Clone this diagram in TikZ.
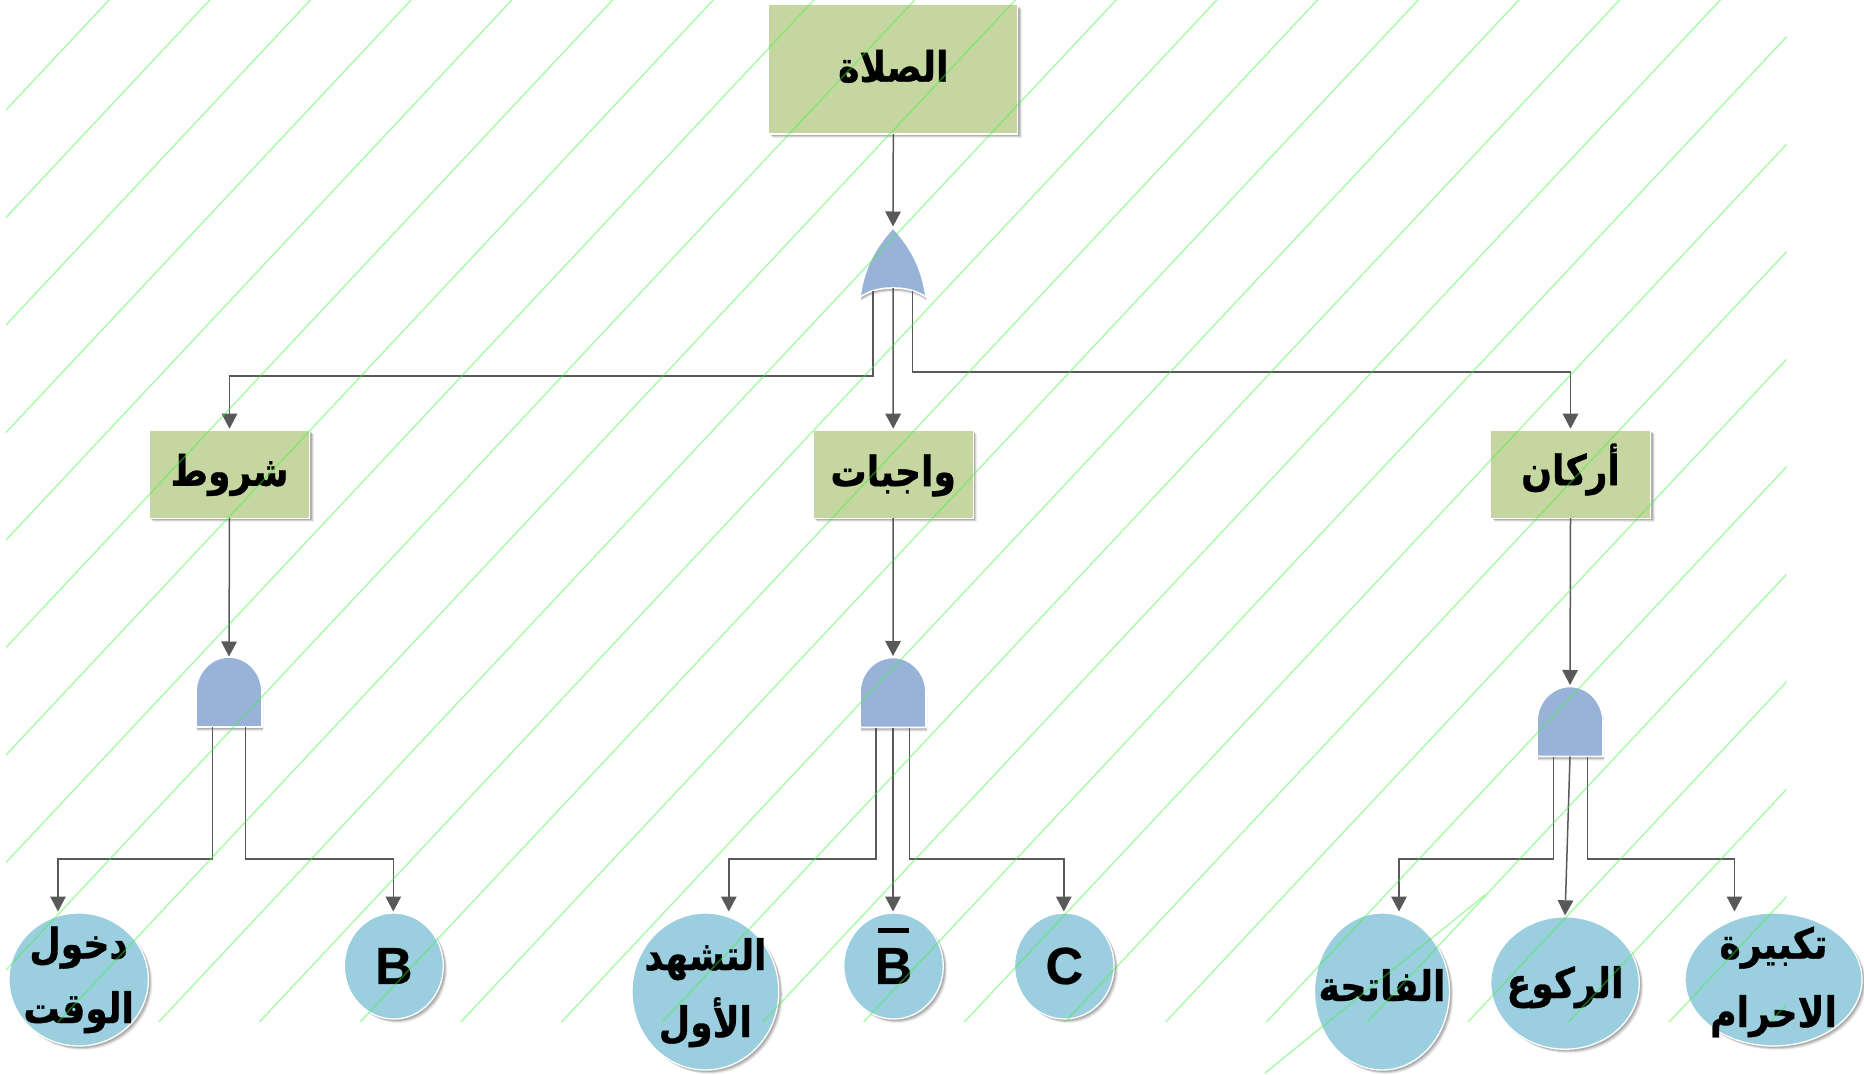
\documentclass[tikz,border=0pt]{standalone}
\usepackage{fontspec}
\usetikzlibrary{arrows.meta,shapes.geometric,shadows,calc}
\TeXXeTstate=1
\newfontfamily\arfont[Script=Arabic,FakeStretch=0.86,BoldFeatures={FakeBold=0.8}]{DejaVu Sans}
\newfontfamily\latfont[BoldFeatures={FakeBold=0.5}]{Liberation Sans}
\definecolor{boxgreen}{HTML}{C6D6A0}
\definecolor{gateblue}{HTML}{99B3D8}
\definecolor{circblue}{HTML}{9BCFDF}
\definecolor{connc}{HTML}{595959}
% zero-size text: the shape keeps its own size, baselines are given from the node's centre
\newcommand{\oneline}[2]{\makebox[0pt]{\smash{\raisebox{#2}{\beginR #1\endR}}}}
\newcommand{\twolines}[4]{\makebox[0pt]{\smash{\makebox[0pt]{\raisebox{#3}{\beginR #1\endR}}\makebox[0pt]{\raisebox{#4}{\beginR #2\endR}}}}}
\tikzset{
  softshadow/.style={
    general shadow={shadow xshift=4pt,shadow yshift=-4pt,fill=black,opacity=.07},
    general shadow={shadow xshift=3pt,shadow yshift=-3pt,fill=black,opacity=.11},
    general shadow={shadow xshift=2pt,shadow yshift=-2pt,fill=black,opacity=.16}},
  gshadow/.style={
    general shadow={shadow xshift=1pt,shadow yshift=-4pt,fill=black,opacity=.07},
    general shadow={shadow xshift=1pt,shadow yshift=-3pt,fill=black,opacity=.11},
    general shadow={shadow xshift=1pt,shadow yshift=-2pt,fill=black,opacity=.16}},
  boxnode/.style={rectangle,draw=white,line width=1.3pt,fill=boxgreen,inner sep=0pt,outer sep=0pt,softshadow,
    text=black,font=\arfont\bfseries\fontsize{42}{44}\selectfont},
  evnode/.style={ellipse,draw=white,line width=1.3pt,fill=circblue,inner sep=0pt,outer sep=0pt,softshadow,
    text=black,font=\arfont\bfseries\fontsize{42}{64}\selectfont},
  latnode/.style={evnode,font=\latfont\bfseries\fontsize{52}{60}\selectfont},
  gatenode/.style={rectangle,inner sep=0pt,outer sep=0pt,minimum width=66pt},
  gateshape/.style={draw=white,line width=1.6pt,fill=gateblue,gshadow},
  conn/.style={draw=connc,line width=1.5pt,-{Triangle[width=15.5pt,length=15pt]},shorten >=1.5pt},
  hatchline/.style={draw={rgb,255:red,60;green,245;blue,60},line width=1.5pt,opacity=.42}
}
\newcommand{\andgate}[1]{\path[gateshape] (#1.south west) -- (#1.south east) -- ++(0,-35)
  arc[start angle=0,end angle=180,x radius=33pt,y radius=35pt] -- cycle;}
\begin{document}
\begin{tikzpicture}[x=1pt,y=-1pt]
\useasboundingbox (0,0) rectangle (1864,1075);
\fill[white] (0,0) rectangle (1864,1075);

% boxes
\node[boxnode,minimum width=249pt,minimum height=129.5pt] (top) at (893.3,69.3) {\oneline{الصلاة}{-12.4pt}};
\node[boxnode,minimum width=160.4pt,minimum height=88pt] (nS) at (229.5,474.2) {\oneline{شروط}{-11.6pt}};
\node[boxnode,minimum width=160.4pt,minimum height=88pt] (nW) at (893.2,474.2) {\oneline{واجبات}{-12pt}};
\node[boxnode,minimum width=160pt,minimum height=88pt] (nA) at (1570.5,474.2) {\oneline{أركان}{-11pt}};

% gates
\node[gatenode,minimum height=60pt] (gO) at (893,258) {};
\path[gateshape] (860,297) .. controls (864,265) and (878,244) .. (gO.north)
  .. controls (908,244) and (922,265) .. (926,297)
  .. controls (915,290) and (905,288) .. (gO.south)
  .. controls (881,288) and (871,290) .. (860,297) -- cycle;
\node[gatenode,minimum height=69pt] (gS) at (229,692.5) {};
\node[gatenode,minimum height=70pt] (gM) at (893,692.5) {};
\node[gatenode,minimum height=70pt] (gR) at (1570,721.5) {};
\andgate{gS}
\andgate{gM}
\andgate{gR}

% events
\node[evnode,minimum width=139.4pt,minimum height=133pt] (eD) at (78.7,979.5) {\twolines{دخول}{الوقت}{21pt}{-43.5pt}};
\node[latnode,minimum width=99pt,minimum height=106pt] (eB) at (393.8,966) {B};
\node[evnode,minimum width=146.8pt,minimum height=157pt] (eT) at (705.4,991.5) {\twolines{التشهد}{الأول}{21.5pt}{-45.5pt}};
\node[latnode,minimum width=99.5pt,minimum height=106pt] (eBb) at (893.5,966) {B};
\node[latnode,minimum width=99.5pt,minimum height=106pt] (eC) at (1064.3,966) {C};
\node[evnode,minimum width=135pt,minimum height=157pt] (eF) at (1382,991.5) {\oneline{الفاتحة}{-9.5pt}};
\node[evnode,minimum width=148.6pt,minimum height=132.4pt] (eRk) at (1565,983) {\oneline{الركوع}{-15pt}};
\node[evnode,minimum width=177pt,minimum height=133pt] (eK) at (1773.5,979.5) {\twolines{تكبيرة}{الاحرام}{21pt}{-47.5pt}};
\fill[black] ([xshift=-15.5pt,yshift=33.3pt]eBb.center) rectangle ([xshift=15.5pt,yshift=37.7pt]eBb.center);

% connectors
\draw[conn] (top.south) -- (gO.north);
\draw[conn] ([xshift=-20pt,yshift=-3pt]gO.south) -- ++(0,85) -| (nS.north);
\draw[conn] (gO.south) -- (nW.north);
\draw[conn] ([xshift=19.5pt,yshift=-3pt]gO.south) -- ++(0,81) -| (nA.north);
\draw[conn] (nS.south) -- (gS.north);
\draw[conn] (nW.south) -- (gM.north);
\draw[conn] (nA.south) -- (gR.north);
\draw[conn] ([xshift=-16.7pt]gS.south) -- ++(0,132) -| ([xshift=-20.7pt]eD.north);
\draw[conn] ([xshift=16.7pt]gS.south) -- ++(0,132) -| ([xshift=-.5pt]eB.north);
\draw[conn] ([xshift=-17pt]gM.south) -- ++(0,131.5) -| ([xshift=23.4pt]eT.north);
\draw[conn] (gM.south) -- ([xshift=-.5pt]eBb.north);
\draw[conn] ([xshift=16.6pt]gM.south) -- ++(0,131.5) -| ([xshift=-.5pt]eC.north);
\draw[conn] ([xshift=-16.3pt]gR.south) -- ++(0,102.5) -| ([xshift=17pt]eF.north);
\draw[conn] (gR.south) -- (eRk.north);
\draw[conn] ([xshift=17.3pt]gR.south) -- ++(0,102.5) -| ([xshift=-39pt]eK.north);

% hatching
\begin{scope}
\clip (6,0) rectangle (1786.7,1021.7);
\foreach \k in {0,...,26}
  \draw[hatchline] (6,110+107.5*\k) -- (1786.7,110+107.5*\k-1900.9);
\end{scope}
\draw[hatchline] (1485,895) -- (1265,1073);
\end{tikzpicture}
\end{document}
